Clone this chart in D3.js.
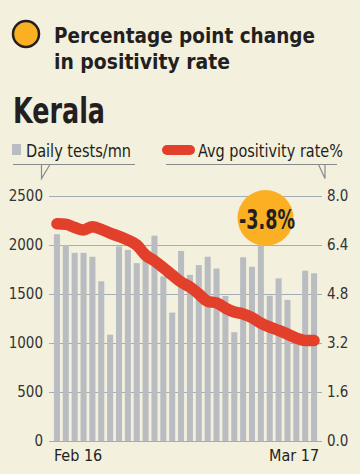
<!DOCTYPE html>
<html><head><meta charset="utf-8">
<script src="https://cdn.jsdelivr.net/npm/d3@7/dist/d3.min.js"></script>
<style>
html,body{margin:0;padding:0;background:#f3f0dd;}
svg{display:block;}
text{font-family:"DejaVu Sans Condensed","Liberation Sans Narrow","Roboto","Noto Sans",sans-serif;font-stretch:condensed;}
</style></head>
<body>
<script>
const dates = ["Feb 16","Feb 17","Feb 18","Feb 19","Feb 20","Feb 21","Feb 22","Feb 23","Feb 24","Feb 25","Feb 26","Feb 27","Feb 28","Mar 1","Mar 2","Mar 3","Mar 4","Mar 5","Mar 6","Mar 7","Mar 8","Mar 9","Mar 10","Mar 11","Mar 12","Mar 13","Mar 14","Mar 15","Mar 16","Mar 17"];
const testsPerMn = [2110,2000,1920,1920,1880,1630,1085,1985,1950,1815,1875,2095,1680,1310,1940,1695,1795,1880,1760,1480,1110,1875,1778,2050,1482,1660,1440,1050,1738,1711];
const positivity = [7.09,7.08,6.97,6.89,7.00,6.91,6.79,6.68,6.56,6.40,6.07,5.88,5.66,5.42,5.19,5.03,4.80,4.56,4.51,4.34,4.21,4.15,4.03,3.85,3.72,3.61,3.49,3.36,3.28,3.28];
const leftTicks = [0,500,1000,1500,2000,2500];
const rightTicks = [0,1.6,3.2,4.8,6.4,8.0];
const changeLabel = "-3.8%";
const titleLines = ["Percentage point change","in positivity rate"];
const stateName = "Kerala";
const legendLabels = ["Daily tests/mn","Avg positivity rate%"];

const W = 360, H = 474;
const svg = d3.select("body").append("svg").attr("width",W).attr("height",H);
svg.append("rect").attr("width",W).attr("height",H).attr("fill","#f3f0dd");

const ink = "#231f20";
// header
svg.append("circle").attr("cx",26).attr("cy",34).attr("r",13).attr("fill","#fbb024").attr("stroke",ink).attr("stroke-width",2.5);
svg.append("text").attr("x",54).attr("y",42.5).text(titleLines[0])
  .attr("font-size",22).attr("font-weight",700).attr("fill",ink)
  .attr("textLength",261).attr("lengthAdjust","spacingAndGlyphs");
svg.append("text").attr("x",54).attr("y",68.5).text(titleLines[1])
  .attr("font-size",22).attr("font-weight",700).attr("fill",ink)
  .attr("textLength",176).attr("lengthAdjust","spacingAndGlyphs");
svg.append("text").attr("x",13).attr("y",123).text(stateName)
  .attr("font-size",35).attr("font-weight",700).attr("fill",ink)
  .attr("textLength",92).attr("lengthAdjust","spacingAndGlyphs");

// legend
svg.append("rect").attr("x",12).attr("y",144).attr("width",9).attr("height",11).attr("fill","#b9bcc1");
svg.append("text").attr("x",26).attr("y",157).text(legendLabels[0])
  .attr("font-size",17.5).attr("fill",ink).attr("textLength",105).attr("lengthAdjust","spacingAndGlyphs");
svg.append("rect").attr("x",162).attr("y",145).attr("width",33).attr("height",10).attr("rx",5).attr("fill","#e2402a");
svg.append("text").attr("x",198).attr("y",157).text(legendLabels[1])
  .attr("font-size",17.5).attr("fill",ink).attr("textLength",145).attr("lengthAdjust","spacingAndGlyphs");
const callout = "#8a8a8a";
svg.append("path").attr("d","M13,164.5H135M50,164.5L41.5,178.5V164.5").attr("fill","none").attr("stroke",callout).attr("stroke-width",1.2);
svg.append("path").attr("d","M166,164.5H337M318.5,164.5L325,178.5V164.5").attr("fill","none").attr("stroke",callout).attr("stroke-width",1.2);

// scales
const x = d3.scaleBand().domain(dates).range([52.5,318.5]).paddingInner(0.32).paddingOuter(0.16);
const yL = d3.scaleLinear().domain([0,2500]).range([441,196]);
const yR = d3.scaleLinear().domain([0,8]).range([441,196]);
const gridL = 49, gridR = 322;

const axL = svg.append("g").attr("transform",`translate(${gridL},0)`)
  .call(d3.axisLeft(yL).tickValues(leftTicks).tickSize(-(gridR-gridL)).tickPadding(6).tickFormat(d3.format("d")));
axL.select(".domain").remove();
axL.selectAll(".tick line").attr("stroke","#a3adb7").attr("stroke-width",1);

const axR = svg.append("g").attr("transform",`translate(${gridR},0)`)
  .call(d3.axisRight(yR).tickValues(rightTicks).tickSize(0).tickPadding(5).tickFormat(d3.format(".1f")));
axR.select(".domain").remove();
svg.selectAll(".tick text").attr("font-family",null).attr("font-size",15).attr("fill","#333");

// bars
svg.append("g").selectAll("rect").data(testsPerMn).join("rect")
  .attr("x",(d,i)=>x(dates[i])).attr("width",x.bandwidth())
  .attr("y",d=>yL(d)).attr("height",d=>yL(0)-yL(d)).attr("fill","#b9bcc1");

// line
const line = d3.line().x((d,i)=>x(dates[i])+x.bandwidth()/2).y(d=>yR(d)).curve(d3.curveMonotoneX);
svg.append("path").datum(positivity).attr("d",line).attr("fill","none")
  .attr("stroke","#e2402a").attr("stroke-width",11.5).attr("stroke-linecap","round").attr("stroke-linejoin","round");

// bottom labels
svg.append("text").attr("x",x(dates[0])).attr("y",461).text(dates[0])
  .attr("font-size",16).attr("fill",ink);
svg.append("text").attr("x",x(dates[dates.length-1])+x.bandwidth()+2).attr("y",461).attr("text-anchor","end").text(dates[dates.length-1])
  .attr("font-size",16).attr("fill",ink);

// change badge
svg.append("circle").attr("cx",265.5).attr("cy",218).attr("r",28).attr("fill","#fbb024");
svg.append("text").attr("x",267).attr("y",228.5).attr("text-anchor","middle").text(changeLabel)
  .attr("font-size",27).attr("font-weight",700).attr("fill",ink)
  .attr("textLength",56).attr("lengthAdjust","spacingAndGlyphs");
</script>
</body></html>
